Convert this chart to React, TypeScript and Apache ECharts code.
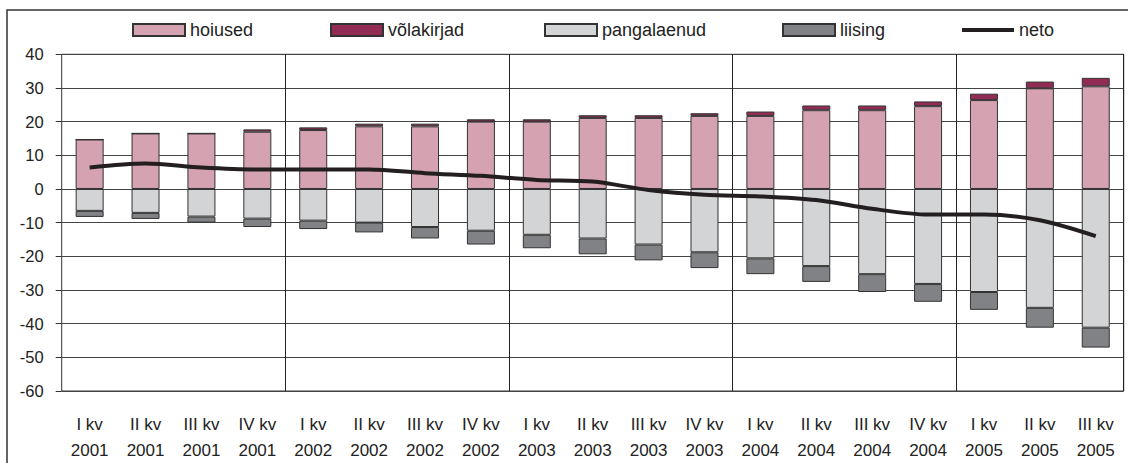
import React, { useEffect, useRef } from "react";
import * as echarts from "echarts";

const categories = [
  "I kv\n2001", "II kv\n2001", "III kv\n2001", "IV kv\n2001",
  "I kv\n2002", "II kv\n2002", "III kv\n2002", "IV kv\n2002",
  "I kv\n2003", "II kv\n2003", "III kv\n2003", "IV kv\n2003",
  "I kv\n2004", "II kv\n2004", "III kv\n2004", "IV kv\n2004",
  "I kv\n2005", "II kv\n2005", "III kv\n2005",
];

const hoiused = [14.7, 16.5, 16.5, 17.0, 17.5, 18.6, 18.6, 20.0, 20.0, 21.1, 21.1, 21.7, 21.7, 23.4, 23.4, 24.6, 26.4, 29.9, 30.5];
const volakirjad = [0, 0, 0, 0.7, 0.8, 0.8, 0.8, 0.7, 0.7, 0.8, 0.8, 0.8, 1.3, 1.4, 1.4, 1.4, 1.9, 2.0, 2.5];
const pangalaenud = [-6.5, -7.1, -8.2, -8.8, -9.4, -10.0, -11.3, -12.4, -13.6, -14.7, -16.5, -18.8, -20.6, -22.9, -25.3, -28.2, -30.6, -35.3, -41.2];
const liising = [-1.8, -1.8, -1.8, -2.5, -2.5, -2.9, -3.4, -4.1, -4.0, -4.7, -4.7, -4.7, -4.7, -4.7, -5.3, -5.3, -5.3, -5.9, -5.9];
const neto = [6.4, 7.6, 6.4, 5.8, 5.8, 5.8, 4.7, 3.9, 2.7, 2.2, -0.3, -1.7, -2.2, -3.3, -5.9, -7.6, -7.6, -9.3, -14.0];

const FONT = "Liberation Sans, Arial, sans-serif";

export default function App() {
  const ref = useRef<HTMLDivElement>(null);

  useEffect(() => {
    if (!ref.current) return;
    const chart = echarts.init(ref.current, undefined, { renderer: "svg" });
    const barBorder = { borderColor: "#333333", borderWidth: 1 };
    const legendText = { fontFamily: FONT, fontSize: 18, color: "#222222" };
    const mkLegend = (name: string, left: number, extra: any = {}) => ({
      data: [name],
      left,
      top: 21,
      padding: 0,
      icon: "rect",
      itemWidth: 52,
      itemHeight: 12,
      textStyle: legendText,
      selectedMode: false,
      ...extra,
    });
    chart.setOption({
      animation: false,
      backgroundColor: "#ffffff",
      graphic: [
        {
          type: "rect",
          shape: { x: 7, y: 10, width: 1125, height: 500 },
          style: { fill: "none", stroke: "#333333", lineWidth: 1.5 },
          silent: true,
        },
      ],
      legend: [
        mkLegend("hoiused", 132),
        mkLegend("võlakirjad", 330),
        mkLegend("pangalaenud", 544),
        mkLegend("liising", 782),
        mkLegend("neto", 962, { itemHeight: 4 }),
      ],
      grid: {
        left: 61.7,
        right: 4.3,
        top: 54.3,
        bottom: 71,
        show: true,
        borderColor: "#333333",
        borderWidth: 1,
      },
      xAxis: {
        type: "category",
        data: categories,
        axisLine: { show: false },
        axisTick: { show: false },
        axisLabel: {
          interval: 0,
          margin: 20,
          fontFamily: FONT,
          fontSize: 17,
          lineHeight: 26,
          color: "#222222",
        },
        splitLine: {
          show: true,
          interval: (i: number) => i > 0 && i % 4 === 0,
          lineStyle: { color: "#222222", width: 1 },
        },
      },
      yAxis: {
        type: "value",
        min: -60,
        max: 40,
        interval: 10,
        axisLine: { show: false },
        axisTick: { show: true, length: 6, lineStyle: { color: "#333333" } },
        axisLabel: {
          margin: 18,
          fontFamily: FONT,
          fontSize: 16.5,
          color: "#222222",
        },
        splitLine: { show: true, lineStyle: { color: "#444444", width: 1 } },
      },
      series: [
        {
          name: "hoiused",
          type: "bar",
          stack: "total",
          barWidth: 28,
          data: hoiused,
          itemStyle: { color: "#d4a2b0", ...barBorder },
        },
        {
          name: "võlakirjad",
          type: "bar",
          stack: "total",
          barWidth: 28,
          data: volakirjad,
          itemStyle: { color: "#922c55", ...barBorder },
        },
        {
          name: "pangalaenud",
          type: "bar",
          stack: "total",
          barWidth: 28,
          data: pangalaenud,
          itemStyle: { color: "#d3d4d6", ...barBorder },
        },
        {
          name: "liising",
          type: "bar",
          stack: "total",
          barWidth: 28,
          data: liising,
          itemStyle: { color: "#818285", ...barBorder },
        },
        {
          name: "neto",
          type: "line",
          data: neto,
          smooth: 0.3,
          symbol: "none",
          z: 5,
          lineStyle: { color: "#231f20", width: 4 },
          itemStyle: { color: "#231f20" },
        },
      ],
    });
    return () => chart.dispose();
  }, []);

  return (
    <div
      ref={ref}
      style={{ position: "absolute", left: 0, top: 0, width: 1128, height: 463 }}
    />
  );
}
